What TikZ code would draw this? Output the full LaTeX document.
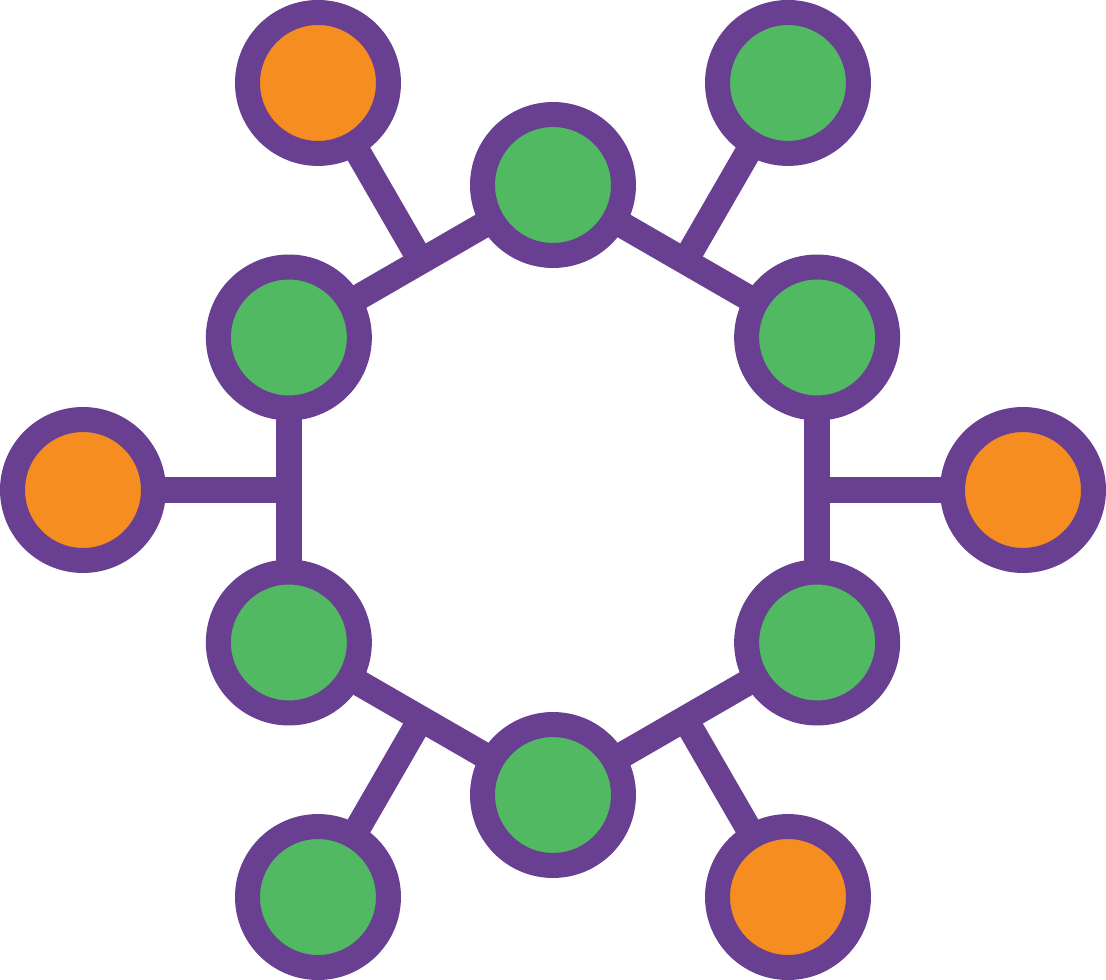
\documentclass[tikz,border=0pt]{standalone}
\usetikzlibrary{calc,backgrounds}
\definecolor{hexpurple}{HTML}{683F91}
\definecolor{hexgreen}{HTML}{52B963}
\definecolor{hexorange}{HTML}{F68D20}
\begin{document}
\begin{tikzpicture}[x=0.02cm, y=0.02cm,
      g/.style={circle, draw=hexpurple, fill=hexgreen, line width=0.5cm, minimum size=2.82cm, inner sep=0pt},
      o/.style={circle, draw=hexpurple, fill=hexorange, line width=0.5cm, minimum size=2.82cm, inner sep=0pt},
      l/.style={draw=hexpurple, line width=0.52cm}]
      \useasboundingbox (-553,-490) rectangle (553,490);
      % ring
      \node[g] (h1) at (90:305) {};
      \node[g] (h2) at (30:305) {};
      \node[g] (h3) at (-30:305) {};
      \node[g] (h4) at (-90:305) {};
      \node[g] (h5) at (-150:305) {};
      \node[g] (h6) at (150:305) {};
      % outer ones
      \node[o] (o1) at (120:470) {};
      \node[g] (o2) at (60:470) {};
      \node[o] (o3) at (0:470) {};
      \node[o] (o4) at (-60:470) {};
      \node[g] (o5) at (-120:470) {};
      \node[o] (o6) at (180:470) {};
      \coordinate (m1) at ($(h1)!0.5!(h6)$);
      \coordinate (m2) at ($(h1)!0.5!(h2)$);
      \coordinate (m3) at ($(h2)!0.5!(h3)$);
      \coordinate (m4) at ($(h3)!0.5!(h4)$);
      \coordinate (m5) at ($(h4)!0.5!(h5)$);
      \coordinate (m6) at ($(h5)!0.5!(h6)$);
      \begin{scope}[on background layer]
        \draw[l] (h1.center) -- (h2.center);
        \draw[l] (h2.center) -- (h3.center);
        \draw[l] (h3.center) -- (h4.center);
        \draw[l] (h4.center) -- (h5.center);
        \draw[l] (h5.center) -- (h6.center);
        \draw[l] (h6.center) -- (h1.center);
        \draw[l] (m1) -- (o1.center);
        \draw[l] (m2) -- (o2.center);
        \draw[l] (m3) -- (o3.center);
        \draw[l] (m4) -- (o4.center);
        \draw[l] (m5) -- (o5.center);
        \draw[l] (m6) -- (o6.center);
      \end{scope}
\end{tikzpicture}
\end{document}
